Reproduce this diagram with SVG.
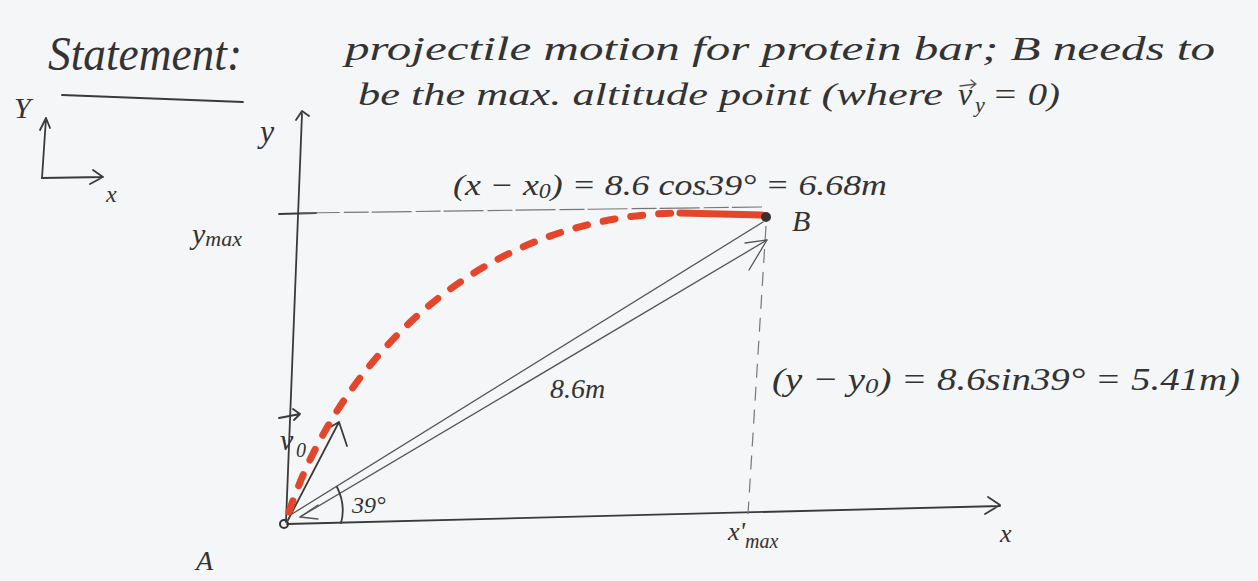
<svg xmlns="http://www.w3.org/2000/svg" width="1258" height="581" viewBox="0 0 1258 581">
<style>
.hw{font-family:"Liberation Serif","DejaVu Serif",serif;font-style:italic;fill:#333;}
.pen{fill:none;stroke:#3a3a3a;stroke-width:1.8;stroke-linecap:round;stroke-linejoin:round;}
.thin{fill:none;stroke:#555;stroke-width:1.3;stroke-linecap:round;stroke-linejoin:round;}
.guide{fill:none;stroke:#777;stroke-width:1.2;}
.red{fill:none;stroke:#e3462a;stroke-width:7;stroke-linecap:round;}
</style>
<rect width="1258" height="581" fill="#f5f6f7"/>

<g id="statement">
  <text class="hw" x="48" y="70" font-size="48" textLength="194" lengthAdjust="spacingAndGlyphs">Statement:</text>
  <path class="pen" d="M62 95 Q150 98 243 102" stroke-width="2.2"/>
  <text class="hw" x="345" y="60" font-size="34" textLength="870" lengthAdjust="spacingAndGlyphs">projectile motion for protein bar; B needs to</text>
  <text class="hw" x="358" y="105" font-size="32" textLength="585" lengthAdjust="spacingAndGlyphs">be the max. altitude point (where</text>
  <text class="hw" x="958" y="105" font-size="32">v</text>
  <path class="thin" d="M960 86 L976 84 M971 80 L976 84 L971 88"/>
  <text class="hw" x="975" y="112" font-size="22">y</text>
  <text class="hw" x="992" y="105" font-size="32" textLength="68" lengthAdjust="spacingAndGlyphs">= 0)</text>
</g>

<g id="small-axes">
  <text class="hw" x="14" y="118" font-size="30">Y</text>
  <path class="pen" d="M42 178 L46 118 M40 130 L46 118 L50 128"/>
  <path class="pen" d="M42 178 L103 177 M93 170 L103 177 L90 184"/>
  <text class="hw" x="106" y="202" font-size="24">x</text>
</g>

<g id="connectors">
  <!-- y axis -->
  <path class="pen" d="M286 522 L302 114 M296 120 L302 111 L309 116"/>
  <!-- x axis -->
  <path class="pen" d="M287 524 L1000 506 M988 497 L1000 505 L985 514"/>
  <!-- ymax tick and guide -->
  <path class="pen" d="M279 214 L316 213"/>
  <path class="guide" stroke-dasharray="40 4 25 3" d="M300 213 Q530 210 762 207"/>
  <!-- vertical guide from B -->
  <path class="guide" stroke-dasharray="14 9" d="M766 226 L748 514"/>
  <!-- displacement double line -->
  <path class="thin" d="M292 514 L763 222"/>
  <path class="thin" d="M300 517 L767 240"/>
  <path class="thin" d="M300 517 L318 505 M300 517 L318 519"/>
  <path class="thin" d="M767 240 L745 243 M767 240 L749 270"/>
  <!-- v0 arrow -->
  <path class="pen" d="M288 520 L339 422 M322 432 L339 422 L347 446"/>
  <!-- angle arc -->
  <path class="pen" d="M337 487 Q346 505 341 523"/>
  <!-- trajectory -->
  <path class="red" stroke-dasharray="12 16" d="M289 512 C336 370 470 216 680 213"/>
  <path class="red" d="M680 213 L762 215"/>
</g>

<g id="A">
  <circle cx="284" cy="524" r="4" fill="none" stroke="#333" stroke-width="2"/>
  <text class="hw" x="196" y="570" font-size="28">A</text>
</g>
<g id="B">
  <circle cx="766" cy="217" r="5" fill="#3a3030"/>
  <text class="hw" x="792" y="231" font-size="30">B</text>
</g>

<g id="labels">
  <text class="hw" x="260" y="142" font-size="32">y</text>
  <text class="hw" x="192" y="244" font-size="30">y<tspan font-size="22" dy="2">max</tspan></text>
  <text class="hw" x="1000" y="542" font-size="26">x</text>
  <text class="hw" x="728" y="540" font-size="26">x'<tspan font-size="20" dy="8">max</tspan></text>
  <text class="hw" x="280" y="450" font-size="30">v</text>
  <path d="M279 418 L300 414 M293 409 L300 414 L294 420" fill="none" stroke="#3a3a3a" stroke-width="1.8" stroke-linecap="round" stroke-linejoin="round"/>
  <text class="hw" x="296" y="457" font-size="20">0</text>
  <text class="hw" x="352" y="513" font-size="24">39°</text>
  <text class="hw" x="550" y="398" font-size="28">8.6m</text>
  <text class="hw" x="453" y="195" font-size="30" textLength="434" lengthAdjust="spacingAndGlyphs">(x − x<tspan font-size="20" dy="3">0</tspan><tspan dy="-3">) = 8.6 cos39° = 6.68m</tspan></text>
  <text class="hw" x="772" y="390" font-size="32" textLength="468" lengthAdjust="spacingAndGlyphs">(y − y<tspan font-size="22" dy="3">0</tspan><tspan dy="-3">) = 8.6sin39° = 5.41m)</tspan></text>
</g>
</svg>
